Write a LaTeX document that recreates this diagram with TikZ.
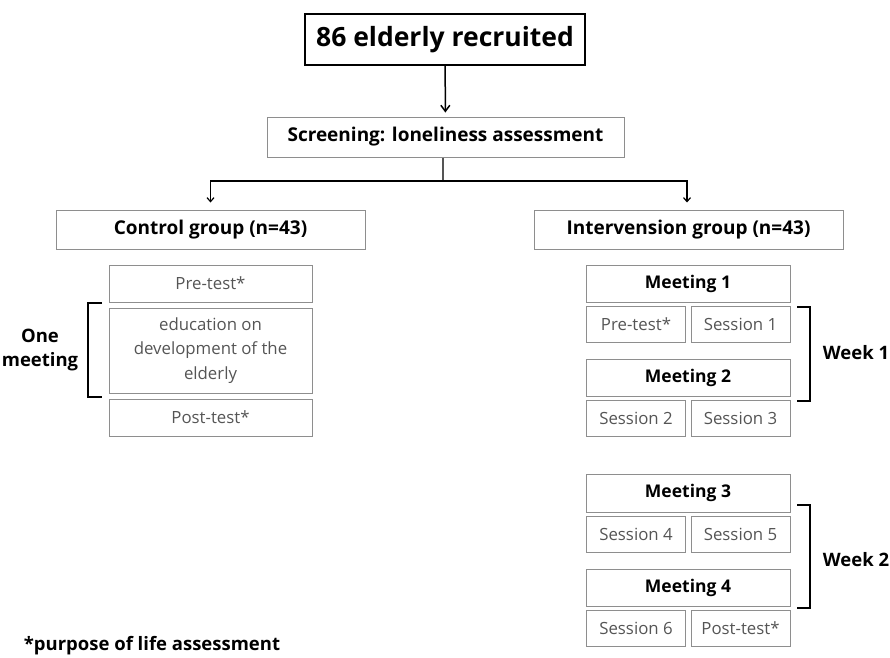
\documentclass[tikz,border=0pt]{standalone}
\usepackage{fontspec}
\setmainfont{Open Sans}
\usetikzlibrary{arrows.meta}
\definecolor{boxgray}{HTML}{8E8E8E}
\definecolor{txtgray}{HTML}{555555}
\tikzset{
  box/.style={draw=boxgray, line width=1pt, text=txtgray, inner sep=0pt,
    minimum height=36pt, font=\fontsize{16.8}{24.5}\selectfont},
  half/.style={box, minimum width=99pt},
  head/.style={box, text=black, font=\fontsize{19}{22}\selectfont\bfseries},
  meet/.style={head, minimum width=204pt, font=\fontsize{17.5}{21}\selectfont\bfseries},
  bracket/.style={line width=2.8pt},
  tag/.style={font=\fontsize{18.5}{24}\selectfont\bfseries, align=center},
}
\begin{document}
\begin{tikzpicture}[x=1pt,y=-1pt]
  \useasboundingbox (0,0) rectangle (890,657);
  \node[draw, line width=1.5pt, minimum width=280pt, minimum height=51pt,
    font=\fontsize{26.5}{30}\selectfont\bfseries] (rec) at (445,39.5) {86 elderly recruited};
  \node[head, minimum width=357pt, minimum height=40pt] (scr) at (445.5,137) {Screening: loneliness assessment};
  \node[head, minimum width=309pt, minimum height=39pt] (ctl) at (210.5,229.5) {Control group (n=43)};
  \node[head, minimum width=309pt, minimum height=39pt] (int) at (688.5,229.5) {Intervension group (n=43)};
  \coordinate (split) at (443,181);
  \draw[-{Straight Barb[length=6pt,width=9pt]}, line width=1.5pt, shorten >=4pt] (rec) -- (scr);
  \draw[txtgray, line width=1.2pt] (scr.south -| split) -- (split);
  \draw[-{Straight Barb[length=4pt,width=7pt]}, line width=1.2pt, shorten >=7pt] (split) -| (ctl.north);
  \draw[-{Straight Barb[length=4pt,width=7pt]}, line width=1.2pt, shorten >=7pt] (split) -| (int.north -| 687,0);
  % control group
  \node[box, minimum width=203pt, minimum height=37pt] (pre) at (210.5,283.5) {Pre-test*};
  \node[box, minimum width=203pt, minimum height=85pt, align=center] (edu) at (210.5,350.5)
    {education on\\development of the\\elderly};
  \node[box, minimum width=203pt, minimum height=37pt] (post) at (210.5,417.5) {Post-test*};
  \draw[bracket] (102,303) -| (88,397) -- (102,397);
  \node[tag] (one) at (40,350) {One\\meeting};
  % intervension group
  \node[meet, minimum height=37pt] (m1) at (688,283.5) {Meeting 1};
  \node[half] (pre2) at (636,324) {Pre-test*};
  \node[half] (s1) at (740.5,324) {Session 1};
  \node[meet, minimum height=37pt] (m2) at (688,377.5) {Meeting 2};
  \node[half] (s2) at (636,418.5) {Session 2};
  \node[half] (s3) at (740.5,418.5) {Session 3};
  \node[meet, minimum height=38pt] (m3) at (688,493) {Meeting 3};
  \node[half] (s4) at (636,534) {Session 4};
  \node[half] (s5) at (740.5,534) {Session 5};
  \node[meet, minimum height=37pt] (m4) at (688,587.5) {Meeting 4};
  \node[half] (s6) at (636,628.5) {Session 6};
  \node[half] (post2) at (740.5,628.5) {Post-test*};
  \draw[bracket] (797,307) -| (810,401) -- (797,401);
  \node[tag] (w1) at (856,353) {Week 1};
  \draw[bracket] (797,505) -| (810,608) -- (797,608);
  \node[tag] (w2) at (856,560) {Week 2};
  \node[tag] (note) at (152,646) {*purpose of life assessment};
\end{tikzpicture}
\end{document}
